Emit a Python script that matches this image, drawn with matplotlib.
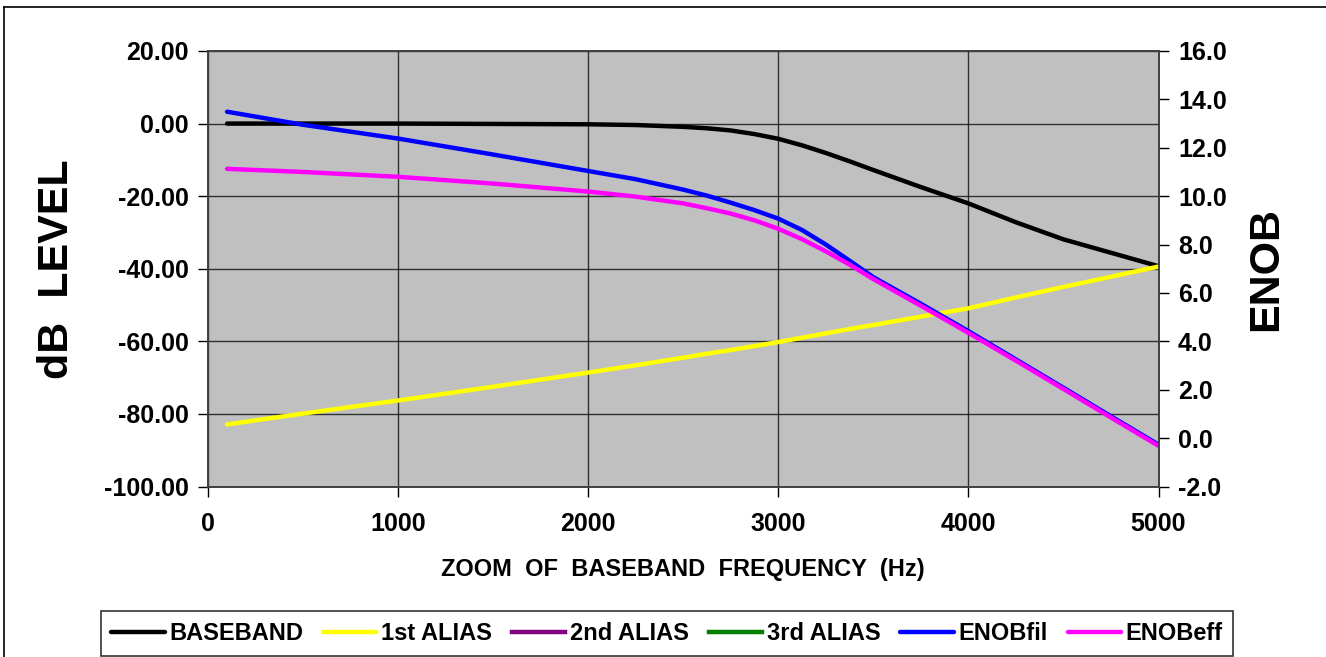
import matplotlib
matplotlib.use("Agg")
import matplotlib.pyplot as plt
from matplotlib.lines import Line2D
from matplotlib.ticker import FormatStrFormatter
import numpy as np

plt.rcParams['font.family'] = ['Liberation Sans', 'DejaVu Sans']
plt.rcParams['font.weight'] = 'bold'

# frequency points (Hz)
freq = [100, 500, 1000, 1500, 2000, 2250, 2500, 2625, 2750, 2875, 3000,
        3125, 3250, 3375, 3500, 3750, 4000, 4250, 4500, 4750, 5000]

# dB level curves (left axis)
baseband = [0.0, 0.0, 0.0, -0.1, -0.2, -0.4, -0.9, -1.3, -1.9, -2.9, -4.2,
            -6.0, -8.1, -10.4, -12.8, -17.5, -22.0, -27.2, -31.9, -35.6, -39.3]
alias_1st = [-82.9, -79.9, -76.3, -72.5, -68.6, -66.6, -64.5, -63.4, -62.4, -61.3, -60.2,
             -59.0, -57.8, -56.6, -55.5, -53.2, -50.9, -47.9, -45.0, -42.2, -39.4]
# 2nd / 3rd alias sit below the plotted range (not visible in the chart)
alias_2nd = [-190, -185, -180, -175, -170, -168, -165, -164, -162, -161, -160,
             -158, -157, -155, -154, -151, -148, -145, -142, -139, -136]
alias_3rd = [-260, -255, -250, -245, -240, -238, -235, -234, -232, -231, -230,
             -228, -227, -225, -224, -221, -218, -215, -212, -209, -206]

# ENOB curves (right axis)
enob_fil = [13.49, 12.95, 12.38, 11.72, 11.04, 10.7, 10.27, 10.02, 9.73, 9.42, 9.07,
            8.6, 8.0, 7.33, 6.65, 5.55, 4.42, 3.25, 2.08, 0.9, -0.27]
enob_eff = [11.13, 11.0, 10.8, 10.52, 10.19, 9.98, 9.7, 9.5, 9.28, 9.0, 8.65,
            8.22, 7.72, 7.17, 6.57, 5.47, 4.35, 3.2, 2.03, 0.85, -0.32]

fig = plt.figure(figsize=(13.26, 6.57), dpi=100)
ax = fig.add_axes([0.1569, 0.2595, 0.8737 - 0.1569, 0.9224 - 0.2595])
ax2 = ax.twinx()

ax.set_facecolor('#C0C0C0')
ax.set_zorder(0)
ax2.set_zorder(1)
ax2.patch.set_visible(False)

lw = 3.2
l1, = ax.plot(freq, baseband, color='black', lw=lw, label='BASEBAND', solid_capstyle='round')
l2, = ax.plot(freq, alias_1st, color='#FFFF00', lw=lw, label='1st ALIAS', solid_capstyle='round')
l3, = ax.plot(freq, alias_2nd, color='#800080', lw=lw, label='2nd ALIAS')
l4, = ax.plot(freq, alias_3rd, color='#008000', lw=lw, label='3rd ALIAS')
l5, = ax2.plot(freq, enob_fil, color='#0000FF', lw=lw, label='ENOBfil', solid_capstyle='round')
l6, = ax2.plot(freq, enob_eff, color='#FF00FF', lw=lw, label='ENOBeff', solid_capstyle='round')

ax.set_xlim(0, 5000)
ax.set_ylim(-100, 20)
ax2.set_ylim(-2, 16)
ax.set_xticks(np.arange(0, 5001, 1000))
ax.set_yticks(np.arange(-100, 21, 20))
ax2.set_yticks(np.arange(-2, 16.1, 2))
ax.yaxis.set_major_formatter(FormatStrFormatter('%.2f'))
ax2.yaxis.set_major_formatter(FormatStrFormatter('%.1f'))

ax.grid(True, color='black', lw=1.0, alpha=0.75)
ax.set_axisbelow(True)

for a in (ax, ax2):
    a.tick_params(axis='y', direction='out', length=7, width=1, labelsize=18, pad=7)
    a.tick_params(axis='x', direction='out', length=7, width=1, labelsize=18, pad=11.5)
    for s in a.spines.values():
        s.set_color('#404040')
        s.set_linewidth(1.2)
    for t in a.get_xticklabels() + a.get_yticklabels():
        t.set_fontweight('bold')

ax.set_xlabel('ZOOM  OF  BASEBAND  FREQUENCY  (Hz)', fontsize=17, fontweight='bold', labelpad=16)
ax.set_ylabel('dB  LEVEL', fontsize=31, fontweight='bold', labelpad=19)
ax2.set_ylabel('ENOB', fontsize=31, fontweight='bold', labelpad=14)

leg = fig.legend(handles=[l1, l2, l3, l4, l5, l6], loc='center',
                 bbox_to_anchor=(667 / 1326, 1 - 633.5 / 657),
                 ncol=6, frameon=True, fancybox=False, fontsize=17, handlelength=2.25,
                 handletextpad=0.2, columnspacing=0.85, borderpad=0.45)
leg.get_frame().set_edgecolor('black')
leg.get_frame().set_linewidth(1.2)
for t in leg.get_texts():
    t.set_fontweight('bold')

# chart border (top and left edges are visible in the crop)
fig.add_artist(Line2D([4 / 1326, 4 / 1326], [0, 1 - 6.7 / 657], transform=fig.transFigure, color='black', lw=1.2))
fig.add_artist(Line2D([4 / 1326, 1], [1 - 6.7 / 657, 1 - 6.7 / 657], transform=fig.transFigure, color='black', lw=1.2))

fig.savefig('out.png', dpi=100)
